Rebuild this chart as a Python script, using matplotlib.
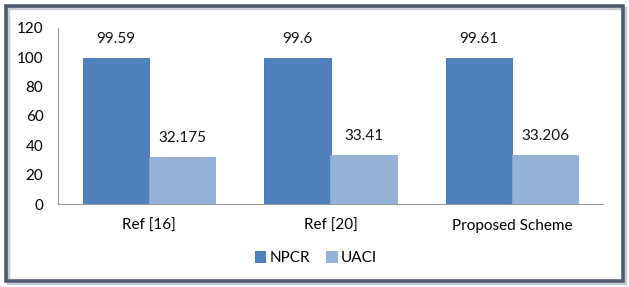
import matplotlib
matplotlib.use("Agg")
import matplotlib.pyplot as plt
import numpy as np
from matplotlib.patches import Rectangle

categories = ["Ref [16]", "Ref [20]", "Proposed Scheme"]
npcr = [99.59, 99.6, 99.61]
uaci = [32.175, 33.41, 33.206]
npcr_labels = ["99.59", "99.6", "99.61"]
uaci_labels = ["32.175", "33.41", "33.206"]
yticks = [0, 20, 40, 60, 80, 100, 120]

plt.rcParams['font.family'] = ['Lato', 'DejaVu Sans']

W, H = 629, 287
fig = plt.figure(figsize=(W/100, H/100), dpi=100)
ax = fig.add_axes([58/W, 1-204/H, (603-58)/W, (204-27.6)/H])

fs = 11
x = np.arange(len(categories))
bw = 0.364
c1, c2 = "#4f81bd", "#95b3d7"
b1 = ax.bar(x - bw/2, npcr, bw, color=c1, edgecolor="#3d6fa8", linewidth=0.6, label="NPCR")
b2 = ax.bar(x + bw/2, uaci, bw, color=c2, edgecolor="#8aaad0", linewidth=0.6, label="UACI")
for xi, v, t in zip(x - bw/2, npcr, npcr_labels):
    ax.text(xi, v + 8, t, ha="center", va="bottom", fontsize=fs, color="#111111")
for xi, v, t in zip(x + bw/2, uaci, uaci_labels):
    ax.text(xi, v + 8, t, ha="center", va="bottom", fontsize=fs, color="#111111")

ax.set_xlim(-0.5, 2.5)
ax.set_ylim(0, 120)
ax.set_yticks(yticks)
ax.set_yticklabels([str(t) for t in yticks], fontsize=fs)
ax.set_xticks(x)
ax.set_xticklabels(categories, fontsize=fs)
ax.tick_params(axis="both", length=0)
ax.tick_params(axis="y", pad=10.5)
ax.tick_params(axis="x", pad=11)
for s in ["top", "right"]:
    ax.spines[s].set_visible(False)
ax.spines["left"].set_color("#999999")
ax.spines["bottom"].set_color("#999999")
ax.spines["left"].set_linewidth(0.8)
ax.spines["bottom"].set_linewidth(0.8)

leg = fig.legend(handles=[b1, b2], loc="center", bbox_to_anchor=(316/W, 1-258/H),
                 ncol=2, frameon=False, fontsize=fs, handlelength=0.7, handleheight=0.7,
                 handletextpad=0.3, columnspacing=1.0)

# border with shadow
fig.patches.append(Rectangle((7.5/W, 1-282.5/H), 617/W, 275/H, transform=fig.transFigure,
                             fill=False, edgecolor="#c8ccd2", linewidth=2.5, zorder=0))
fig.patches.append(Rectangle((5.5/W, 1-280.5/H), 617/W, 275/H, transform=fig.transFigure,
                             fill=False, edgecolor="#4e5b6e", linewidth=2.6, zorder=1))

fig.savefig("out.png", dpi=100)
